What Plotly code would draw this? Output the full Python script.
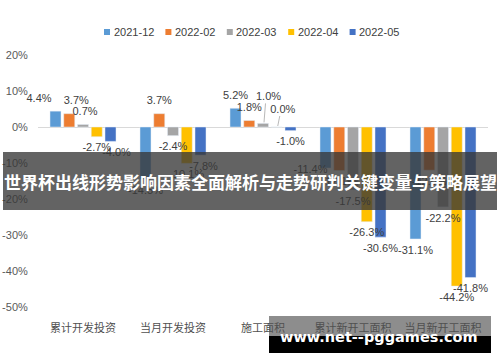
import plotly.graph_objects as go

categories = ["累计开发投资", "当月开发投资", "施工面积", "累计新开工面积", "当月新开工面积"]
series_names = ["2021-12", "2022-02", "2022-03", "2022-04", "2022-05"]
v_2021_12 = [4.4, -14.5, 5.2, -11.4, -31.1]
v_2022_02 = [3.7, 3.7, 1.8, -12.1, -12.0]
v_2022_03 = [0.7, -2.4, 1.0, -17.5, -22.2]
v_2022_04 = [-2.7, -10.1, 0.0, -26.3, -44.2]
v_2022_05 = [-4.0, -7.8, -1.0, -30.6, -41.8]
y_ticks = [20, 10, 0, -10, -20, -30, -40, -50]
y_tick_labels = ["20%", "10%", "0%", "-10%", "-20%", "-30%", "-40%", "-50%"]
banner_text = "世界杯出线形势影响因素全面解析与走势研判关键变量与策略展望"
watermark_text = "www.net--pggames.com"

colors = ["#5B9BD5", "#ED7D31", "#A5A5A5", "#FFC000", "#4472C4"]
all_values = [v_2021_12, v_2022_02, v_2022_03, v_2022_04, v_2022_05]

# style: label nudges in pixels (dx right, dy down) and which labels get leader lines
label_nudge = {(0, 0): (-16.5, 0), (0, 1): (7, 0), (0, 2): (2, 0), (0, 4): (6, 0),
               (1, 4): (3, 0), (2, 2): (5.5, -14), (2, 3): (6, -5), (3, 0): (-15, -10)}
leader_lines = [(2, 2), (2, 3)]

W, H = 500, 362
PX0, PX1, PY0, PY1 = 38, 488, 55, 307  # plot area in pixels
L, R, T, B = PX0, W - PX1, PY0, H - PY1
YMIN, YMAX = -50, 20
XMIN, XMAX = -0.5, 4.5
BARGAP, GROUPGAP = 0.236, 0.2
px_per_x = (PX1 - PX0) / (XMAX - XMIN)
px_per_y = (PY1 - PY0) / (YMAX - YMIN)
slot = (1 - BARGAP) / len(series_names)

def px_x(px):
    return (px - PX0) / (PX1 - PX0)

def px_y(py):
    return (PY1 - py) / (PY1 - PY0)

xs = list(range(len(categories)))
fig = go.Figure()
for i, (name, vals, col) in enumerate(zip(series_names, all_values, colors)):
    fig.add_trace(go.Bar(x=xs, y=vals, name=name, marker_color=col, showlegend=False))

# data labels as text traces (kept in the trace layer, beneath the overlays)
for i, vals in enumerate(all_values):
    lx, ly, lt = [], [], []
    for c, v in enumerate(vals):
        bx = c + (i - (len(series_names) - 1) / 2) * slot
        dx, dy = label_nudge.get((c, i), (0, 0))
        base = v + (12 / px_per_y if v >= 0 else -12 / px_per_y)
        tx = bx + dx / px_per_x
        ty = base - dy / px_per_y
        lx.append(tx); ly.append(ty); lt.append(f"{v:.1f}%")
        if (c, i) in leader_lines:
            fig.add_trace(go.Scatter(
                x=[tx - 3 / px_per_x, bx + 1 / px_per_x], y=[ty - 6 / px_per_y, v + 1 / px_per_y],
                mode="lines", line=dict(color="#A6A6A6", width=0.8), showlegend=False,
                hoverinfo="skip", cliponaxis=False))
    fig.add_trace(go.Scatter(x=lx, y=ly, text=lt, mode="text", showlegend=False,
                             textfont=dict(size=11, color="#404040", family="Liberation Sans, Arial"),
                             cliponaxis=False, hoverinfo="skip"))

fig.update_layout(
    width=W, height=H,
    margin=dict(l=L, r=R, t=T, b=B, autoexpand=False),
    paper_bgcolor="white", plot_bgcolor="white",
    barmode="group", bargap=BARGAP, bargroupgap=GROUPGAP,
    font=dict(family="Liberation Sans, Arial", size=11, color="#595959"),
    xaxis=dict(range=[XMIN, XMAX], tickmode="array", tickvals=xs, ticktext=categories,
               showgrid=False, showline=False, zeroline=False, ticks="outside", ticklen=11,
               tickcolor="rgba(0,0,0,0)",
               tickfont=dict(family="Noto Sans CJK SC", size=11, color="#505050")),
    yaxis=dict(range=[YMIN, YMAX], tickmode="array", tickvals=y_ticks, ticktext=y_tick_labels,
               showgrid=False, zeroline=True, zerolinecolor="#D9D9D9", zerolinewidth=1,
               showline=False, ticks="outside", ticklen=7, tickcolor="rgba(0,0,0,0)",
               tickfont=dict(size=11, color="#595959")),
)

shapes = []
# compact legend
leg_x0, leg_step, leg_y = 104, 61.4, 32
for i, (name, col) in enumerate(zip(series_names, colors)):
    sx = leg_x0 + i * leg_step
    shapes.append(dict(type="rect", xref="paper", yref="paper",
                       x0=px_x(sx), x1=px_x(sx + 6), y0=px_y(leg_y + 3), y1=px_y(leg_y - 3),
                       fillcolor=col, line=dict(width=0)))
    fig.add_annotation(xref="paper", yref="paper", x=px_x(sx + 7.5), y=px_y(leg_y),
                       xanchor="left", yanchor="middle", text=name, showarrow=False,
                       font=dict(size=11, color="#404040"))

shapes += [
    dict(type="rect", xref="paper", yref="paper", x0=px_x(3), x1=px_x(497),
         y0=px_y(210), y1=px_y(152), fillcolor="rgba(55,55,55,0.78)", line=dict(width=0),
         layer="above"),
    dict(type="rect", xref="paper", yref="paper", x0=px_x(269), x1=px_x(491),
         y0=px_y(336), y1=px_y(316), fillcolor="rgba(80,80,80,0.65)", line=dict(width=0),
         layer="above"),
    dict(type="rect", xref="paper", yref="paper", x0=px_x(269), x1=px_x(491),
         y0=px_y(353), y1=px_y(336), fillcolor="black", line=dict(width=0),
         layer="above"),
]
fig.update_layout(shapes=shapes)
fig.add_annotation(xref="paper", yref="paper", x=px_x(250), y=px_y(181),
                   xanchor="center", yanchor="middle",
                   text="<b>" + banner_text + "</b>", showarrow=False,
                   font=dict(family="Noto Sans CJK SC", size=17, color="white"))
fig.add_annotation(xref="paper", yref="paper", x=px_x(379), y=px_y(337),
                   xanchor="center", yanchor="middle",
                   text="<b>" + watermark_text + "</b>", showarrow=False,
                   font=dict(family="DejaVu Sans", size=14.5, color="white"))

fig.write_html("out.html", config={"displayModeBar": False},
               post_script="document.body.style.margin='0';")
